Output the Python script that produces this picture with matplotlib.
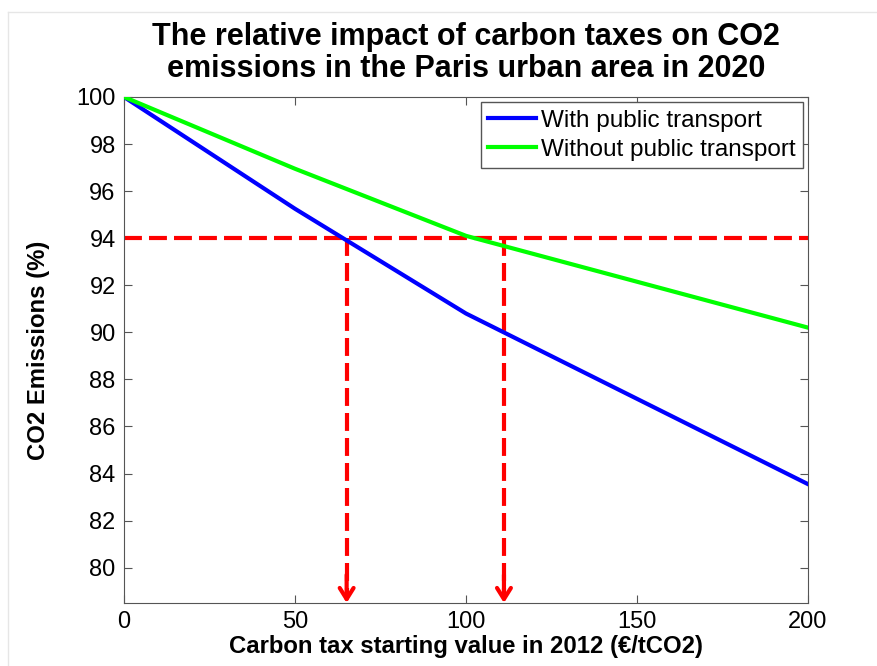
import matplotlib.pyplot as plt
from matplotlib.lines import Line2D

# values
tax = [0, 50, 100, 200]
with_pt = [100.0, 95.25, 90.8, 83.55]
without_pt = [100.0, 96.95, 94.1, 90.2]

target_level = 94
tax_with = 65.1
tax_without = 111.1

xticks = [0, 50, 100, 150, 200]
yticks = list(range(80, 101, 2))

plt.rcParams["font.family"] = ["Liberation Sans", "DejaVu Sans"]

fig = plt.figure(figsize=(8.77, 6.66), dpi=100)
ax = fig.add_axes([0.1414, 0.0946, 0.7799, 0.7598])

# faint frame of the original screenshot
fig.add_artist(Line2D([0.009, 1.0], [0.982, 0.982], color="#e6e6e6", lw=1,
                      transform=fig.transFigure))
fig.add_artist(Line2D([0.009, 0.009], [0.0, 0.982], color="#e6e6e6", lw=1,
                      transform=fig.transFigure))

ax.plot(tax, with_pt, color="#0000ff", linewidth=3, label="With public transport", zorder=3)
ax.plot(tax, without_pt, color="#00ff00", linewidth=3, label="Without public transport", zorder=3)

ymin = 78.5
dash = (0, (4.3, 1.7))
ax.axhline(target_level, color="#ff0000", linewidth=3, linestyle=dash, zorder=2)
for xv in (tax_with, tax_without):
    ax.plot([xv, xv], [target_level, ymin + 0.25], color="#ff0000", linewidth=3,
            linestyle=dash, zorder=2)
    ax.annotate("", xy=(xv, ymin), xytext=(xv, ymin + 1.2),
                arrowprops=dict(arrowstyle="->,head_length=0.8,head_width=0.5",
                                color="#ff0000", lw=3, shrinkA=0, shrinkB=0),
                zorder=4)

ax.set_xlim(0, 200)
ax.set_ylim(ymin, 100)
ax.set_xticks(xticks)
ax.set_yticks(yticks)
ax.tick_params(direction="in", top=True, right=True, labelsize=17, length=6,
               color="#555555", pad=6)
for s in ax.spines.values():
    s.set_color("#555555")

ax.set_xlabel("Carbon tax starting value in 2012 (€/tCO2)", fontsize=17.2,
              fontweight="bold", labelpad=1)
ax.set_ylabel("CO2 Emissions (%)", fontsize=17.2, fontweight="bold", labelpad=19)
ax.set_title("The relative impact of carbon taxes on CO2\nemissions in the Paris urban area in 2020",
             fontsize=22, fontweight="bold", pad=14.5, linespacing=1.1)

leg = ax.legend(loc="upper right", fontsize=17.5, fancybox=False, framealpha=1,
                edgecolor="#555555", handlelength=1.95, borderaxespad=0.22,
                labelspacing=0.3, handletextpad=0.2, borderpad=0.3)
leg.get_frame().set_linewidth(1)

fig.savefig("out.png", dpi=100)
